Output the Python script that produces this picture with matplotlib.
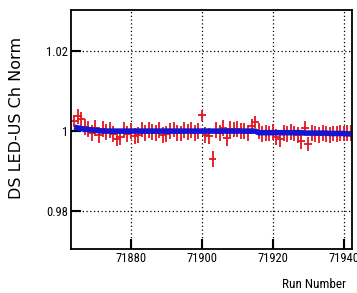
import matplotlib
matplotlib.use("Agg")
import matplotlib.pyplot as plt
from matplotlib.ticker import FixedLocator
from matplotlib import font_manager

runs = [71864, 71865, 71866, 71867, 71868, 71869, 71870, 71871, 71872, 71873,
        71874, 71875, 71876, 71877, 71878, 71879, 71880, 71881, 71882, 71883,
        71884, 71885, 71886, 71887, 71888, 71889, 71890, 71891, 71892, 71893,
        71894, 71895, 71896, 71897, 71898, 71899, 71900, 71901, 71902, 71903,
        71904, 71905, 71906, 71907, 71908, 71909, 71910, 71911, 71912, 71913,
        71914, 71915, 71916, 71917, 71918, 71919, 71920, 71921, 71922, 71923,
        71924, 71925, 71926, 71927, 71928, 71929, 71930, 71931, 71932, 71933,
        71934, 71935, 71936, 71937, 71938, 71939, 71940, 71941, 71942]

ratio = [1.0025, 1.0037, 1.0030, 1.0010, 1.0005, 0.9995, 1.0008, 0.9990, 1.0005, 0.9998,
         1.0002, 0.9993, 0.9980, 0.9985, 1.0003, 0.9992, 1.0000, 0.9988, 0.9990, 1.0004,
         0.9995, 1.0002, 0.9998, 0.9996, 1.0003, 0.9990, 0.9992, 1.0000, 1.0004, 0.9996,
         0.9994, 1.0002, 0.9998, 1.0003, 0.9995, 1.0001, 1.0040, 0.9990, 0.9988, 0.9930,
         1.0002, 0.9995, 1.0008, 0.9983, 1.0006, 1.0004, 1.0005, 1.0001, 1.0000, 0.9996,
         1.0012, 1.0022, 1.0000, 0.9993, 0.9996, 0.9994, 0.9998, 0.9985, 0.9980, 0.9996,
         0.9992, 0.9998, 0.9994, 0.9990, 0.9975, 1.0008, 0.9967, 0.9995, 0.9992, 0.9990,
         0.9996, 0.9993, 0.9990, 0.9994, 0.9992, 0.9995, 0.9994, 0.9996, 0.9995]

ratio_err = [0.0015, 0.0018, 0.0018, 0.0020, 0.0020, 0.0020, 0.0020, 0.0020, 0.0020, 0.0020,
             0.0020, 0.0020, 0.0018, 0.0020, 0.0020, 0.0020, 0.0020, 0.0020, 0.0020, 0.0020,
             0.0020, 0.0020, 0.0020, 0.0020, 0.0020, 0.0020, 0.0020, 0.0020, 0.0020, 0.0020,
             0.0020, 0.0020, 0.0020, 0.0020, 0.0020, 0.0020, 0.0014, 0.0020, 0.0020, 0.0020,
             0.0020, 0.0020, 0.0020, 0.0020, 0.0020, 0.0020, 0.0020, 0.0020, 0.0020, 0.0020,
             0.0018, 0.0015, 0.0020, 0.0020, 0.0020, 0.0020, 0.0020, 0.0020, 0.0020, 0.0020,
             0.0020, 0.0020, 0.0020, 0.0020, 0.0020, 0.0018, 0.0018, 0.0020, 0.0020, 0.0020,
             0.0020, 0.0020, 0.0020, 0.0020, 0.0020, 0.0020, 0.0020, 0.0020, 0.0020]

run_halfwidth = 1.1

trend = [1.0010, 1.0008, 1.0006, 1.0005, 1.0004, 1.0003, 1.0002, 1.0001, 1.0000, 1.0000,
         1.0000, 1.0000, 1.0000, 1.0000, 1.0000, 1.0000, 1.0000, 1.0000, 1.0000, 1.0000,
         1.0000, 1.0000, 1.0000, 1.0000, 1.0000, 1.0000, 1.0000, 1.0000, 1.0000, 1.0000,
         1.0000, 1.0000, 1.0000, 1.0000, 1.0000, 1.0000, 1.0000, 1.0000, 1.0000, 1.0000,
         1.0000, 1.0000, 1.0000, 1.0000, 1.0000, 1.0000, 1.0000, 1.0000, 1.0000, 1.0000,
         1.0000, 1.0000, 0.9996, 0.9996, 0.9996, 0.9996, 0.9996, 0.9996, 0.9996, 0.9996,
         0.9996, 0.9996, 0.9996, 0.9996, 0.9996, 0.9995, 0.9995, 0.9995, 0.9995, 0.9995,
         0.9995, 0.9995, 0.9994, 0.9994, 0.9994, 0.9994, 0.9994, 0.9993, 0.9993]

x_ticks = [71880, 71900, 71920, 71940]
y_ticks = [0.98, 1.0, 1.02]
y_tick_labels = ["0.98", "1", "1.02"]


def pick(names):
    avail = {f.name for f in font_manager.fontManager.ttflist}
    return [n for n in names if n in avail] + ["DejaVu Sans"]


narrow = pick(["Liberation Sans Narrow", "Arial Narrow", "Roboto Condensed", "Liberation Sans"])

fig = plt.figure(figsize=(3.57, 2.93), dpi=100)
ax = fig.add_axes([71/357, 1 - 249/293, (352 - 71)/357, (249 - 10)/293])

ax.errorbar(runs, ratio, yerr=ratio_err, xerr=run_halfwidth, fmt="none",
            ecolor="#e3161e", elinewidth=1.3, capsize=0, zorder=2)
ax.plot(runs, trend, color="#1414d2", linewidth=4.0, zorder=3, solid_capstyle="butt")

ax.set_xlim(71863.1, 71942.3)
ax.set_ylim(0.9705, 1.0303)
ax.xaxis.set_major_locator(FixedLocator(x_ticks))
ax.yaxis.set_major_locator(FixedLocator(y_ticks))
ax.set_yticklabels(y_tick_labels, family=narrow, fontsize=9)
ax.set_xticklabels([str(t) for t in x_ticks], family=narrow, fontsize=9)
ax.tick_params(axis="both", direction="in", length=7, width=1.5, pad=2, colors="black")
ax.grid(True, color="black", linestyle=(0, (1, 2)), linewidth=0.9)
for s in ax.spines.values():
    s.set_linewidth(1.3)

fig.text(17/357, 1 - 118/293, "DS LED-US Ch Norm", rotation=90, ha="center", va="center",
         fontsize=11.5, family=["DejaVu Sans"])
fig.text(346/357, 1 - 285/293, "Run Number", ha="right", va="center",
         fontsize=9.5, family=narrow)

fig.savefig("out.png", dpi=100)
